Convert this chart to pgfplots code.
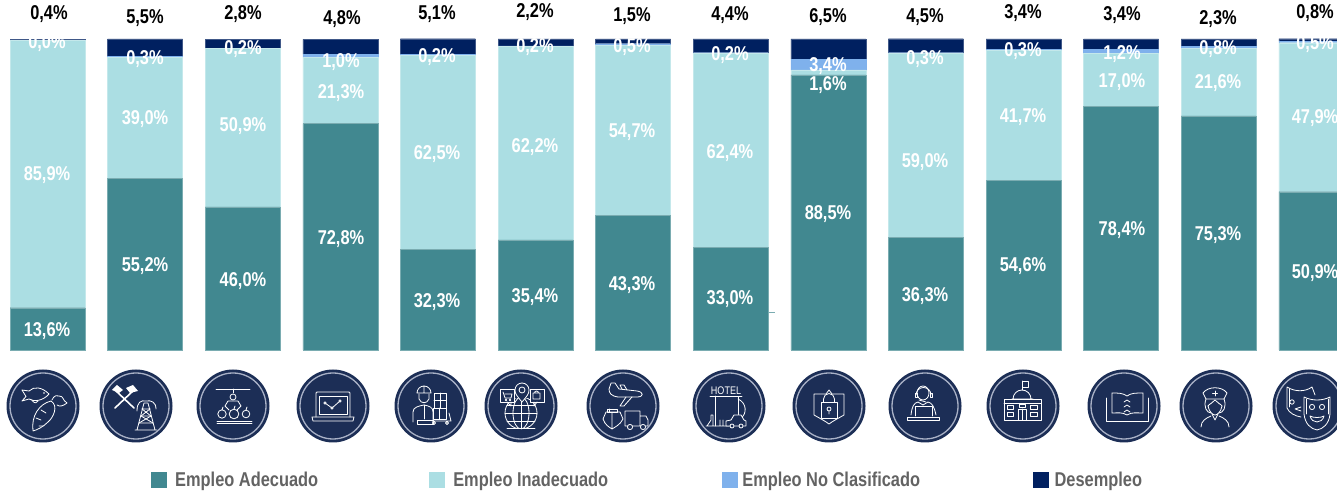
\documentclass[border=0pt]{standalone}
\usepackage{fontspec}
\usepackage{pgfplots}
\usepackage{pgfplotstable}
\pgfplotsset{compat=1.18}
\newfontfamily\lab[FakeStretch=0.82]{Liberation Sans}
\definecolor{cAde}{HTML}{418890}
\definecolor{cIna}{HTML}{ABDEE3}
\definecolor{cNoc}{HTML}{7FB1EC}
\definecolor{cDes}{HTML}{002060}
\definecolor{cIcon}{HTML}{1C2E56}
\definecolor{cRing}{HTML}{A9B1C6}
\definecolor{cLeg}{HTML}{636363}
\pgfplotstableread{
x ade ina noc des
0 13.6 85.9 0.0 0.4
1 55.2 39.0 0.3 5.5
2 46.0 50.9 0.2 2.8
3 72.8 21.3 1.0 4.8
4 32.3 62.5 0.2 5.1
5 35.4 62.2 0.2 2.2
6 43.3 54.7 0.5 1.5
7 33.0 62.4 0.2 4.4
8 88.5 1.6 3.4 6.5
9 36.3 59.0 0.3 4.5
10 54.6 41.7 0.3 3.4
11 78.4 17.0 1.2 3.4
12 75.3 21.6 0.8 2.3
13 50.9 47.9 0.5 0.8
}\datatable
\pgfplotstableread{
px py lab
47 331 13,6
47 175 85,9
47 43 0,0
145 266 55,2
145 119 39,0
145 59 0,3
243 281 46,0
243 126 50,9
243 49 0,2
341 239 72,8
341 93 21,3
341 62 1,0
437 302 32,3
437 154 62,5
437 57 0,2
535 297 35,4
535 147 62,2
535 47 0,2
632 285 43,3
632 132 54,7
632 47 0,5
730 299 33,0
730 153 62,4
730 55 0,2
828 214 88,5
828 85 1,6
828 66 3,4
925 296 36,3
925 162 59,0
925 59 0,3
1023 266 54,6
1023 117 41,7
1023 51 0,3
1122 230 78,4
1122 82 17,0
1122 54 1,2
1218 235 75,3
1218 83 21,6
1218 49 0,8
1315 273 50,9
1315 118 47,9
1315 44 0,5
}\inner
\pgfplotstableread{
px py lab
49 14 0,4
145 18 5,5
243 14 2,8
342 19 4,8
437 14 5,1
535 12 2,2
632 16 1,5
730 15 4,4
828 17 6,5
925 17 4,5
1023 13 3,4
1122 15 3,4
1218 19 2,3
1315 13 0,8
}\outer
\pgfplotsset{common/.style={
  at={(0pt,0pt)}, anchor=south west, scale only axis,
  width=1337pt, height=494pt,
  xmin=-0.4867, xmax=13.212, ymin=-46.30, ymax=112.54,
  axis lines=none}}
\newcommand\iconat[3]{%
  \begin{scope}[shift={(#1pt,88pt)},x=1pt,y=1pt]
    \fill[cIcon] (0,0) circle (36.5);
    \draw[cRing,line width=1.3pt] (0,0) circle (33);
    \begin{scope}[shift={(0,0)},white,line width=0.8pt,line join=round,line cap=round]
      #3
    \end{scope}
  \end{scope}}
\begin{document}
\begin{tikzpicture}
\useasboundingbox (0,0) rectangle (1337pt,494pt);
\clip (0,0) rectangle (1337pt,494pt);
\begin{axis}[common,
  ybar stacked, bar width=75pt,
  legend columns=4,
  legend style={at={(151pt,14pt)},anchor=west,draw=none,fill=none,inner sep=0pt,outer sep=0pt,
    font=\lab\bfseries\fontsize{20}{22}\selectfont, text=cLeg,
    nodes={inner sep=0pt,outer sep=0pt,anchor=west},
    column sep=0pt},
  legend cell align=left,
  legend image code/.code={\fill[#1,draw=none] (0pt,-8pt) rectangle (16pt,8pt); \path (24pt,0pt);},
]
\addplot+[ybar,fill=cAde,draw=cAde!70!white,line width=0.3pt] table[x=x,y=ade]{\datatable};
\addlegendentry{\makebox[254pt][l]{Empleo Adecuado}}
\addplot+[ybar,fill=cIna,draw=cIna!70!white,line width=0.3pt] table[x=x,y=ina]{\datatable};
\addlegendentry{\makebox[269pt][l]{Empleo Inadecuado}}
\addplot+[ybar,fill=cNoc,draw=cNoc,line width=0.3pt] table[x=x,y=noc]{\datatable};
\addlegendentry{\makebox[287pt][l]{\hspace*{-4pt}Empleo No Clasificado}}
\addplot+[ybar,fill=cDes,draw=cDes!75!white,line width=0.3pt] table[x=x,y=des]{\datatable};
\addlegendentry{\hspace*{-3pt}Desempleo}
\end{axis}
\draw[cAde!70!white,line width=0.8pt] (768pt,182pt) -- (775pt,182pt);
\begin{axis}[common, clip=false]
\addplot[draw=none,mark=none,
  nodes near coords={\pgfplotspointmeta\%},
  point meta=explicit symbolic,
  nodes near coords style={anchor=center,text=white,inner sep=0pt,font=\lab\bfseries\fontsize{20}{22}\selectfont}]
  table[x expr={(\thisrow{px}-47.5)/97.6},y expr={(350-\thisrow{py})/3.11},meta=lab]{\inner};
\addplot[draw=none,mark=none,
  nodes near coords={\pgfplotspointmeta\%},
  point meta=explicit symbolic,
  nodes near coords style={anchor=center,text=black,inner sep=0pt,font=\lab\bfseries\fontsize{20}{22}\selectfont}]
  table[x expr={(\thisrow{px}-47.5)/97.6},y expr={(350-\thisrow{py})/3.11},meta=lab]{\outer};
\end{axis}
% icons
\iconat{43}{0}{% fish and carrot
  \draw (-21,5) -- (-17,9.5) -- (-21,16) -- (-14,15) .. controls (-9,20) and (-1,19) .. (6,12) .. controls (0,5) and (-9,4) .. (-14,7) -- (-21,5);
  \draw (-11,5.5) .. controls (-8,2) and (-6,3) .. (-5,5);
  \fill (1,13) circle (0.9);
  \draw (-10,-25) .. controls (-12,-10) and (-4,2) .. (8,5) .. controls (16,0) and (10,-12) .. (5,-16) .. controls (0,-21) and (-6,-24) .. (-10,-25);
  \draw (9,6) .. controls (12,12) and (14,10) .. (16,10) .. controls (21,10) and (19,6) .. (24,3) .. controls (20,0) and (17,-1) .. (14,1);
  \draw (-7,-12) -- (-2,-14) (-2,-4) -- (3,-7) (-4,-20) -- (0,-20);
}
\iconat{136}{0}{% hammers and rig
  \draw[line width=1.6pt] (-21,-2) -- (-2,16) (-2,-2) -- (-21,16);
  \fill (-24,16) -- (-19,21) -- (-13,16) -- (-17,13) -- cycle;
  \fill (2,15) -- (-3,21) -- (-10,18) -- (-6,13) -- cycle;
  \draw (1,-24) -- (8,3) -- (12,3) -- (19,-24) (-1,-24) -- (21,-24) (3,-17) -- (17,-17) (5,-10) -- (15,-10) (6,-3) -- (14,-3);
  \draw (3,-17) -- (15,-10) -- (6,-3) (17,-17) -- (5,-10) -- (14,-3);
  \draw (1,-5) .. controls (1,4) and (5,6) .. (10,5) .. controls (15,6) and (20,4) .. (20,-3);
}
\iconat{233}{0}{% conveyor apples
  \draw (-17,17) -- (17,17) (0,17) -- (0,13);
  \draw (0,9) circle (3);
  \draw (-5,5) -- (5,5) (-5,5) -- (-8,0) -- (-4,-4) (5,5) -- (8,0) -- (4,-4);
  \draw (-11,-8) circle (4.2) (1,-8) circle (4.8) (13,-8) circle (3.8);
  \draw (-11,-4) -- (-10,-1) (1,-3) -- (2,0) (13,-4) -- (14,-1);
  \draw (-16,-15) -- (19,-15) (-16,-17.5) -- (19,-17.5);
}
\iconat{333}{0}{% laptop
  \draw (-17,-11) -- (-17,12) .. controls (-17,14) .. (-15,14) -- (15,14) .. controls (17,14) .. (17,12) -- (17,-11);
  \draw (-14,-8) rectangle (14,10);
  \draw (-21,-11) -- (21,-11) -- (20,-15) -- (-20,-15) -- cycle;
  \draw (-8,3) -- (-1,-2) -- (7,5);
  \draw[fill=cIcon] (-8,3) circle (1.2) (-1,-2) circle (1.2) (7,5) circle (1.2);
}
\iconat{431}{0}{% worker
  \draw (-14,13) arc (180:0:7) -- cycle (-7,20) -- (-7,13);
  \draw (-12,12) -- (-12,7) .. controls (-10,2) and (-4,2) .. (-2,7) -- (-2,12);
  \draw (-18,-16) -- (-18,-6) .. controls (-18,-1) and (-12,0) .. (-7,1) .. controls (-2,0) and (2,-1) .. (2,-6) -- (2,-18);
  \draw (-14,-18) rectangle (2,-14) (-7,1) -- (-7,-13);
  \draw (3,-2) rectangle (15,13) (3,5.5) -- (15,5.5) (9,-2) -- (9,13);
  \draw (2,-13) rectangle (15,-2) (8.5,-13) -- (8.5,-2);
  \draw (1,-15) -- (20,-15) -- (18,-7) (3,-17) circle (1.5) (16,-17) circle (1.5);
}
\iconat{521}{0}{% globe
  \begin{scope}
    \clip (-18,-23) rectangle (18,7);
    \draw (0,-7) circle (16);
    \draw (0,-7) ellipse (8 and 16);
  \end{scope}
  \draw (0,-23) -- (0,9) (-16,-7) -- (16,-7) (-14,-15) -- (14,-15) (-14,1) -- (14,1) (-14,-22) -- (14,-22);
  \draw[fill=cIcon] (-21,17) rectangle (-7,4);
  \draw[fill=cIcon] (9,17) rectangle (23,4);
  \draw (-14,4) -- (-10,0) -- (-10,4) (16,4) -- (13,0) -- (13,4);
  \draw[fill=cIcon] (1,4) .. controls (-4,10) and (-6,12) .. (-6,16) arc (180:0:7) .. controls (8,12) and (6,10) .. (1,4);
  \draw (-18,14) -- (-16,8) -- (-10,8) -- (-9,12) -- (-16,12) (-15,6) circle (0.8) (-11,6) circle (0.8);
  \draw (12,7) rectangle (19,13) (13.5,13) arc (180:0:2);
  \draw (1,16) circle (3);
}
\iconat{623}{0}{% transport
  \draw (-14,17) -- (-12,23) -- (-8,23) -- (-4,17) -- (14,15) .. controls (21,14) and (21,9) .. (14,9) -- (-5,9) .. controls (-12,10) and (-14,13) .. (-14,17);
  \draw (-1,17) -- (-3,21) -- (1,21) -- (4,16);
  \draw (3,9) -- (-3,0) -- (1,0) -- (9,9);
  \draw (-16,-6) rectangle (-6,-3) (-14,-3) -- (-14,-6);
  \draw (-20,-13) -- (-17,-6) -- (-3,-6) -- (0,-13) (-20,-13) .. controls (-18,-19) and (-14,-21) .. (-11,-23) .. controls (-8,-21) and (-3,-19) .. (0,-13) (-11,-6) -- (-11,-23);
  \draw (2,-5) rectangle (17,-20) (17,-10) -- (23,-10) -- (25,-14) -- (25,-20) -- (17,-20);
  \draw[fill=cIcon] (7,-21) circle (2.6) (20,-21) circle (2.6);
}
\iconat{729}{0}{% hotel
  \node[font=\lab\fontsize{11}{11}\selectfont,inner sep=0] at (-3,15) {HOTEL};
  \draw (-19,10) -- (13,10);
  \draw (-14,10) -- (9,10) -- (9,-11) (-14,10) -- (-14,-20);
  \draw (9,7) .. controls (18,3) and (18,-8) .. (12,-12);
  \draw (-22,-20) -- (-18,-14) -- (-18,-9) -- (-16,-9) -- (-16,-20) (-23,-20) -- (0,-20) (-6,-20) -- (-6,-14) (-9,-20) -- (-9,-14);
  \draw[fill=cIcon] (-3,-20) -- (-3,-15) -- (2,-14) -- (5,-9) -- (12,-9) -- (15,-14) -- (17,-15) -- (17,-20) -- cycle;
  \draw[fill=cIcon] (3,-20) circle (2) (12,-20) circle (2);
}
\iconat{829}{0}{% shield lock
  \draw (0,16) -- (3,12) -- (15,12) -- (15,-9) .. controls (8,-13) and (4,-15) .. (0,-18) .. controls (-4,-15) and (-8,-13) .. (-15,-9) -- (-15,12) -- (-3,12) -- cycle;
  \draw (-8,-12) rectangle (8,4);
  \draw (-5.5,4) -- (-5.5,7) arc (180:0:5.5) -- (5.5,4);
  \draw (0,-3) circle (2) (0,-5) -- (0,-8);
}
\iconat{925}{0}{% headset
  \draw (-2,13) ellipse (6 and 7);
  \draw (-9,11) arc (180:0:7.5);
  \draw (-10,9) rectangle (-8,13) (5,9) rectangle (7,13);
  \draw (-6,6) -- (1,4);
  \draw (-14,-9) .. controls (-13,0) and (-11,3) .. (-7,4) -- (-2,1) -- (3,4) .. controls (7,3) and (9,0) .. (11,-9);
  \draw (-10,-10) -- (-10,0) -- (7,0) -- (7,-10);
  \draw (-18,-11) rectangle (14,-14);
}
\iconat{1023}{0}{% building
  \draw (-19,-14) rectangle (18,7);
  \draw (-19,3) -- (18,3);
  \draw (-10,7) arc (180:0:9) (-11,7) -- (10,7);
  \draw (-1,16) -- (-1,25) (-1,18.5) rectangle (5,25);
  \draw (-5,-14) -- (-5,-3) -- (3,-3) -- (3,-14) (-1,-3) -- (-1,-14);
  \draw (-16,-3) rectangle (-10,1) (-16,-10) rectangle (-10,-6) (7,-3) rectangle (14,1) (7,-10) rectangle (14,-6) (-4,-1) rectangle (2,2);
}
\iconat{1124}{0}{% book
  \draw (3,-9) .. controls (-2,-6) and (-6,-7) .. (-12,-7) -- (-12,13) .. controls (-6,13) and (-1,13) .. (3,10) .. controls (7,13) and (12,13) .. (19,13) -- (19,-7) .. controls (12,-7) and (8,-6) .. (3,-9);
  \draw (-18,8) -- (-18,-15) -- (24,-15) -- (24,8);
  \draw (0,4) -- (3,6) -- (6,4) (0,-1) -- (3,1) -- (6,-1) (0,-6) -- (3,-4) -- (6,-6);
}
\iconat{1216}{0}{% nurse
  \draw (-13,13) .. controls (-8,20) and (6,20) .. (11,13) -- (8,7) -- (-10,7) -- cycle;
  \draw (-1,10) -- (-1,15) (-3.5,12.5) -- (1.5,12.5);
  \draw (-10,7) .. controls (-13,-1) and (-9,-7) .. (-5,-7) (8,7) .. controls (11,-1) and (7,-7) .. (3,-7);
  \draw (-1,6) .. controls (-3,3) and (-7,2) .. (-8,0) (-1,6) .. controls (1,3) and (5,2) .. (6,0);
  \draw (-8,0) .. controls (-7,-6) and (-3,-9) .. (-1,-9) .. controls (1,-9) and (5,-6) .. (6,0);
  \draw (-4,-8) -- (-1,-14) -- (2,-8);
  \draw (-15,-21) .. controls (-15,-15) and (-10,-12) .. (-5,-10) (13,-21) .. controls (13,-15) and (8,-12) .. (3,-10);
}
\iconat{1309}{0}{% theatre masks
  \draw (-22,19) .. controls (-14,14) and (-4,14) .. (3,19) -- (6,11) (-22,19) -- (-22,-2) .. controls (-20,-7) and (-14,-10) .. (-8,-11);
  \draw (-20,17) -- (-20,-1);
  \draw (-17,4) circle (2.2) (-8,-1) -- (-14,-3) -- (-8,-5);
  \draw[fill=cIcon] (-5,9) .. controls (3,5) and (13,5) .. (21,9) -- (21,-8) .. controls (20,-18) and (14,-23) .. (8,-24) .. controls (2,-23) and (-4,-18) .. (-5,-8) -- cycle;
  \draw (-3,7) -- (-3,-8) (19,7) -- (19,-8);
  \draw (3,-1) circle (2.6) (13,-1) circle (2.6);
  \draw (1,-10) .. controls (4,-12) and (12,-12) .. (15,-10) .. controls (13,-18) and (3,-18) .. (1,-10);
}
\end{tikzpicture}
\end{document}
